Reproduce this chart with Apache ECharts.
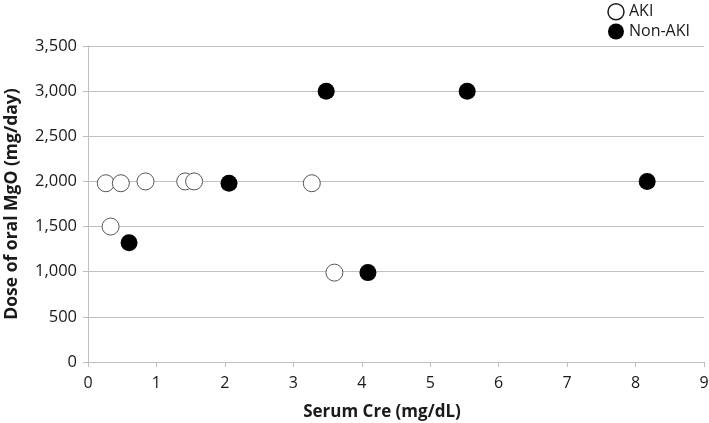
<!DOCTYPE html>
<html><head><meta charset="utf-8">
<script src="https://cdn.jsdelivr.net/npm/echarts@6/dist/echarts.min.js"></script>
<style>html,body{margin:0;padding:0;background:#fff}#c{width:709px;height:423px}</style>
</head><body><div id="c"></div>
<script>
const akiCre = [0.26, 0.48, 0.84, 1.42, 1.55, 3.27, 0.33, 3.60];
const akiDose = [1980, 1980, 2000, 2000, 2000, 1980, 1500, 990];
const nonAkiCre = [2.06, 0.60, 4.09, 3.48, 5.54, 8.17];
const nonAkiDose = [1980, 1320, 990, 3000, 3000, 2000];
const xTitle = 'Serum Cre (mg/dL)';
const yTitle = 'Dose of oral MgO (mg/day)';
const font = '"Open Sans", sans-serif';

const chart = echarts.init(document.getElementById('c'), null, {renderer: 'canvas'});
chart.setOption({
  animation: false,
  grid: {left: 88, right: 5, top: 46, bottom: 61, containLabel: false, outerBoundsMode: 'none'},
  legend: {
    orient: 'vertical', right: 14, top: -2, itemGap: 3, itemWidth: 16, itemHeight: 16,
    textStyle: {fontFamily: font, fontSize: 16, color: '#1a1a1a'},
    data: [
      {name: 'AKI', icon: 'circle', itemStyle: {color: '#fff', borderColor: '#1a1a1a', borderWidth: 1.5}},
      {name: 'Non-AKI', icon: 'circle', itemStyle: {color: '#000'}}
    ]
  },
  xAxis: {
    type: 'value', min: 0, max: 9, interval: 1,
    name: xTitle, nameLocation: 'middle', nameGap: 42,
    nameTextStyle: {fontFamily: font, fontSize: 17, fontWeight: 'bold', color: '#1a1a1a', padding: [0, 28, 0, 0]},
    axisLine: {show: true, lineStyle: {color: '#bfbfbf'}},
    axisTick: {show: true, length: 5, lineStyle: {color: '#bfbfbf'}},
    axisLabel: {fontFamily: font, fontSize: 16, color: '#1a1a1a', margin: 13},
    splitLine: {show: false}
  },
  yAxis: {
    type: 'value', min: 0, max: 3500, interval: 500,
    name: yTitle, nameLocation: 'middle', nameGap: 67,
    nameTextStyle: {fontFamily: font, fontSize: 17.5, fontWeight: 'bold', color: '#1a1a1a'},
    axisLine: {show: true, lineStyle: {color: '#bfbfbf'}},
    axisTick: {show: true, length: 5, lineStyle: {color: '#bfbfbf'}},
    axisLabel: {fontFamily: font, fontSize: 16.5, color: '#1a1a1a', margin: 11,
      formatter: v => v.toLocaleString('en-US')},
    splitLine: {show: true, lineStyle: {color: '#c0c0c0', width: 1}}
  },
  series: [
    {
      name: 'AKI', type: 'scatter', symbol: 'circle', symbolSize: 17,
      itemStyle: {color: '#fff', borderColor: '#555', borderWidth: 1, opacity: 1},
      data: akiCre.map((x, i) => [x, akiDose[i]])
    },
    {
      name: 'Non-AKI', type: 'scatter', symbol: 'circle', symbolSize: 17,
      itemStyle: {color: '#000', opacity: 1},
      data: nonAkiCre.map((x, i) => [x, nonAkiDose[i]])
    }
  ]
});
</script></body></html>
